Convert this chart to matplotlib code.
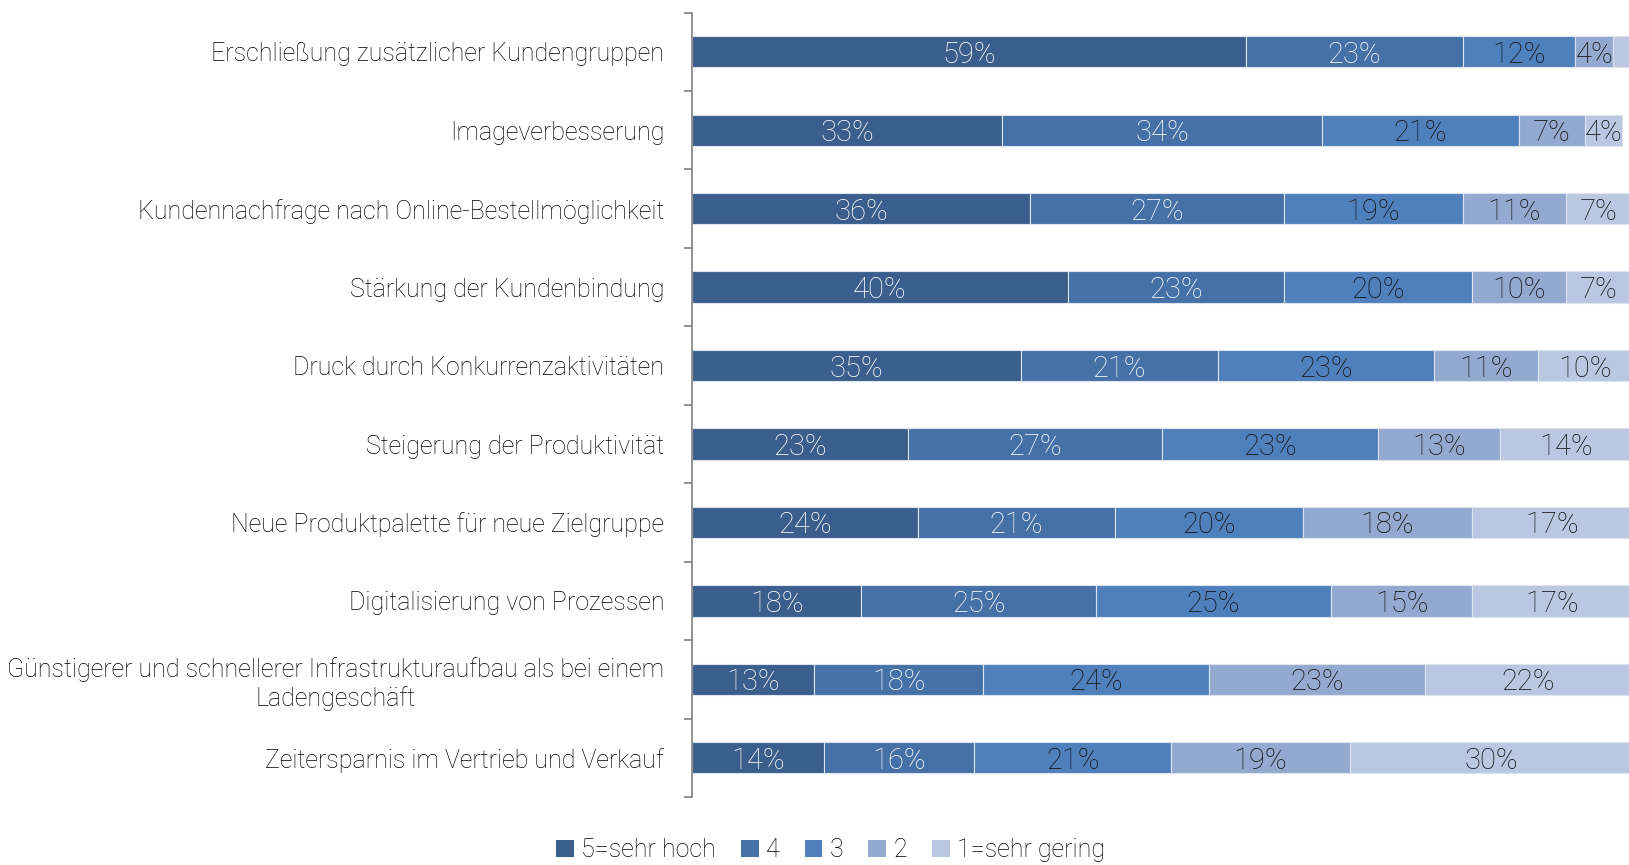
import matplotlib
matplotlib.use("Agg")
import matplotlib.pyplot as plt
from matplotlib.patches import Patch
import numpy as np

# Categories (top to bottom) and shares per rating level in percent
categories = [
    "Erschließung zusätzlicher Kundengruppen",
    "Imageverbesserung",
    "Kundennachfrage nach Online-Bestellmöglichkeit",
    "Stärkung der Kundenbindung",
    "Druck durch Konkurrenzaktivitäten",
    "Steigerung der Produktivität",
    "Neue Produktpalette für neue Zielgruppe",
    "Digitalisierung von Prozessen",
    "Günstigerer und schnellerer Infrastrukturaufbau als bei einem\nLadengeschäft",
    "Zeitersparnis im Vertrieb und Verkauf",
]
level_names = ["5=sehr hoch", "4", "3", "2", "1=sehr gering"]
sehr_hoch = [59, 33, 36, 40, 35, 23, 24, 18, 13, 14]
stufe_4 = [23, 34, 27, 23, 21, 27, 21, 25, 18, 16]
stufe_3 = [12, 21, 19, 20, 23, 23, 20, 25, 24, 21]
stufe_2 = [4, 7, 11, 10, 11, 13, 18, 15, 23, 19]
sehr_gering = [2, 4, 7, 7, 10, 14, 17, 17, 22, 30]

COLORS = ["#3b5f8c", "#4571a6", "#4f80bc", "#94a9d0", "#b9c7e1"]
TEXT_COLORS = ["white", "white", "#111111", "#111111", "#111111"]

plt.rcParams["font.family"] = ["Roboto", "DejaVu Sans"]
plt.rcParams["font.weight"] = "light"
TEXT_SIZE = 18
VALUE_SIZE = 21

fig = plt.figure(figsize=(16.29, 8.65), dpi=100)
ax = fig.add_axes([0.4248, 0.0786, 0.5752, 0.9069])

series = [sehr_hoch, stufe_4, stufe_3, stufe_2, sehr_gering]
y = np.arange(len(categories))
left = np.zeros(len(categories))
for vals, color, tcolor in zip(series, COLORS, TEXT_COLORS):
    vals = np.array(vals, dtype=float)
    bars = ax.barh(y, vals, left=left, height=0.4, color=color,
                   edgecolor="#dce4f0", linewidth=0.8)
    for b, v in zip(bars, vals):
        if v >= 4:
            ax.text(b.get_x() + b.get_width() / 2, b.get_y() + b.get_height() / 2,
                    f"{int(v)}%", ha="center", va="center_baseline", color=tcolor,
                    fontsize=VALUE_SIZE, clip_on=True)
    left += vals

ax.set_xlim(0, 99.7)
ax.set_ylim(len(categories) - 0.5, -0.5)
ax.set_yticks(y)
ax.set_yticklabels(categories, fontsize=TEXT_SIZE, multialignment="center")
ax.set_yticks(np.arange(-0.5, len(categories)), minor=True)
ax.tick_params(axis="y", which="major", length=0, pad=20)
ax.tick_params(axis="y", which="minor", length=6, width=1.2, color="#808080")
ax.set_xticks([])
for s in ["top", "right", "bottom"]:
    ax.spines[s].set_visible(False)
ax.spines["left"].set_color("#808080")
ax.spines["left"].set_linewidth(1.2)

handles = [Patch(facecolor=c, edgecolor="none") for c in COLORS]
fig.legend(handles, level_names, loc="center", bbox_to_anchor=(0.51, 0.017),
           ncol=5, frameon=False, fontsize=TEXT_SIZE, handlelength=0.7,
           handleheight=0.7, handletextpad=0.3, columnspacing=1.0)

fig.savefig("out.png", dpi=100)
